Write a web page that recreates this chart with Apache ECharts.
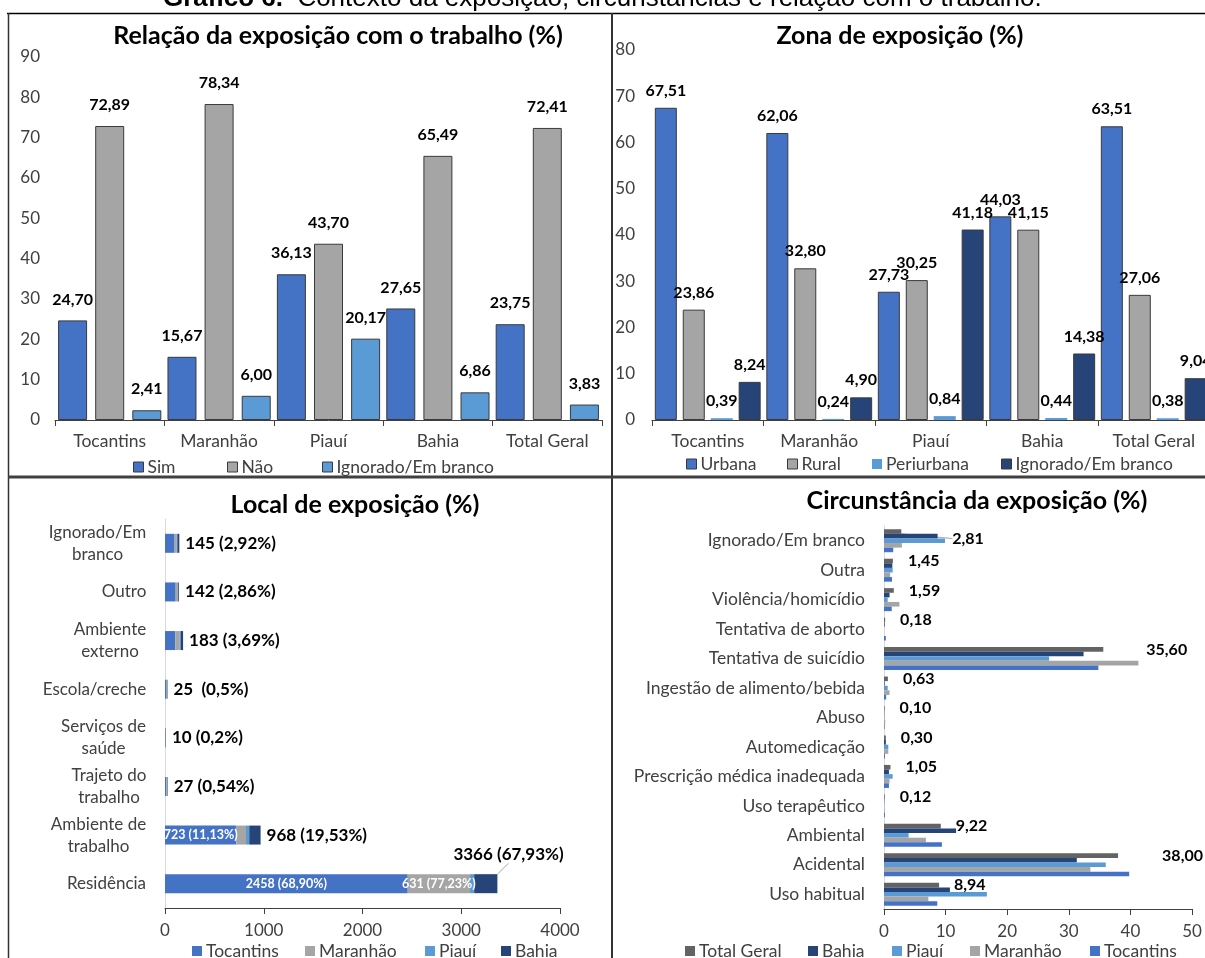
<!DOCTYPE html>
<html>
<head>
<meta charset="utf-8">
<script src="https://cdn.jsdelivr.net/npm/echarts@6/dist/echarts.min.js"></script>
<style>
  html, body { margin: 0; padding: 0; background: #fff; }
  #c { width: 1205px; height: 958px; }
</style>
</head>
<body>
<div id="c"></div>
<script>
// ---- Relação da exposição com o trabalho (%) ----
const workStates = ['Tocantins', 'Maranhão', 'Piauí', 'Bahia', 'Total Geral'];
const workSim = [24.70, 15.67, 36.13, 27.65, 23.75];
const workNao = [72.89, 78.34, 43.70, 65.49, 72.41];
const workIgn = [2.41, 6.00, 20.17, 6.86, 3.83];

// ---- Zona de exposição (%) ----
const zoneStates = ['Tocantins', 'Maranhão', 'Piauí', 'Bahia', 'Total Geral'];
const zoneUrbana = [67.51, 62.06, 27.73, 44.03, 63.51];
const zoneRural = [23.86, 32.80, 30.25, 41.15, 27.06];
const zonePeri = [0.39, 0.24, 0.84, 0.44, 0.38];
const zoneIgn = [8.24, 4.90, 41.18, 14.38, 9.04];

// ---- Local de exposição (notificações, bottom to top) ----
const placeCats = ['Residência', 'Ambiente de\ntrabalho', 'Trajeto do\ntrabalho', 'Serviços de\nsaúde',
  'Escola/creche', 'Ambiente\nexterno', 'Outro', 'Ignorado/Em\nbranco'];
const placeToc = [2458, 723, 15, 5, 12, 104, 108, 97];
const placeMar = [631, 97, 5, 2, 4, 44, 24, 21];
const placePia = [42, 33, 2, 1, 2, 10, 2, 7];
const placeBah = [235, 115, 5, 2, 7, 25, 8, 20];
const placeTotalPct = ['67,93%', '19,53%', '0,54%', '0,2%', '0,5%', '3,69%', '2,86%', '2,92%'];
const placeTotalSep = [' ', ' ', ' ', ' ', '  ', ' ', ' ', ' '];
const placeTocPct = ['68,90%', '11,13%', null, null, null, null, null, null];
const placeMarPct = ['77,23%', null, null, null, null, null, null, null];

// ---- Circunstância da exposição (%) (bottom to top) ----
const circCats = ['Uso habitual', 'Acidental', 'Ambiental', 'Uso terapêutico', 'Prescrição médica inadequada',
  'Automedicação', 'Abuso', 'Ingestão de alimento/bebida', 'Tentativa de suicídio', 'Tentativa de aborto',
  'Violência/homicídio', 'Outra', 'Ignorado/Em branco'];
const circTotal = [8.94, 38.00, 9.22, 0.12, 1.05, 0.30, 0.10, 0.63, 35.60, 0.18, 1.59, 1.45, 2.81];
const circBahia = [10.7, 31.3, 11.7, 0.05, 0.8, 0.3, 0.05, 0.1, 32.4, 0.1, 0.9, 1.35, 8.7];
const circPiaui = [16.7, 36.0, 4.0, 0.05, 1.4, 0.7, 0.08, 0.6, 26.8, 0.0, 0.6, 1.4, 9.9];
const circMaranhao = [7.2, 33.5, 6.8, 0.1, 0.9, 0.7, 0.2, 0.9, 41.3, 0.0, 2.5, 1.0, 2.9];
const circTocantins = [8.65, 39.8, 9.4, 0.15, 0.8, 0.15, 0.1, 0.35, 34.8, 0.3, 1.25, 1.3, 1.5];

// ---- styling ----
const FONT = 'Lato';
const AX = '#404040';
const AXIS_FS = 17.5;
const C_BLUE = '#4472C4', C_GRAY = '#A5A5A5', C_LBLUE = '#5B9BD5', C_NAVY = '#264478', C_DGRAY = '#636363';
const fmt2 = v => v.toFixed(2).replace('.', ',');

// multi-line category labels: lines centred on each other, block right-aligned on the axis
const mctx = document.createElement('canvas').getContext('2d');
function textWidth(s, size) { mctx.font = size + 'px ' + FONT; return mctx.measureText(s).width; }
const placeRich = {};
placeCats.forEach((c, i) => {
  const w = Math.max(...c.split('\n').map(l => textWidth(l, 17)));
  placeRich['p' + i] = { width: Math.ceil(w) + 1, align: 'center', fontFamily: FONT, fontSize: 17, color: AX, lineHeight: 22 };
});

function columnSeries(name, data, color, idx, bw, gap, dist) {
  return {
    type: 'bar', name, data, xAxisIndex: idx, yAxisIndex: idx,
    barWidth: bw, barGap: gap,
    itemStyle: { color, borderColor: '#3a3a3a', borderWidth: 1 },
    label: {
      show: true, position: 'top', distance: dist, formatter: p => fmt2(p.value),
      fontFamily: FONT, fontWeight: 'bold', fontSize: 16, color: '#000'
    },
    emphasis: { disabled: true }
  };
}

function stackSeries(name, data, color, extra) {
  return Object.assign({
    type: 'bar', name, data, stack: 'local', xAxisIndex: 2, yAxisIndex: 2,
    barWidth: 19, itemStyle: { color }, emphasis: { disabled: true }
  }, extra || {});
}

function circSeries(name, data, color, extra) {
  return Object.assign({
    type: 'bar', name, data, xAxisIndex: 3, yAxisIndex: 3,
    barCategoryGap: '22%', barGap: '0%', itemStyle: { color }, emphasis: { disabled: true }
  }, extra || {});
}

function legendItem(name, color, x, y, bordered) {
  return {
    left: x, top: y, padding: 0, itemGap: 0, itemWidth: 10, itemHeight: 10,
    icon: 'rect', selectedMode: false,
    data: [{ name, itemStyle: bordered ? { color, borderColor: '#3a3a3a', borderWidth: 1 } : { color, borderWidth: 0 } }],
    textStyle: { fontFamily: FONT, fontSize: AXIS_FS, color: AX, padding: [0, 0, 0, -1] }
  };
}

const catAxisBottom = (idx, data) => ({
  type: 'category', gridIndex: idx, data,
  axisLine: { show: true, lineStyle: { color: AX, width: 1 } },
  axisTick: { show: true, length: 6, lineStyle: { color: AX } },
  axisLabel: { fontFamily: FONT, fontSize: AXIS_FS, color: AX, margin: 12, interval: 0 },
  splitLine: { show: false }
});

const valAxisLeft = (idx, max, margin) => ({
  type: 'value', gridIndex: idx, min: 0, max, interval: 10,
  axisLine: { show: false }, axisTick: { show: false }, splitLine: { show: false },
  axisLabel: { fontFamily: FONT, fontSize: 17, color: AX, margin }
});

const valAxisBottom = (idx, max, interval) => ({
  type: 'value', gridIndex: idx, min: 0, max, interval,
  axisLine: { show: true, lineStyle: { color: AX, width: 1 } },
  axisTick: { show: true, length: 6, lineStyle: { color: AX } },
  splitLine: { show: false },
  axisLabel: { fontFamily: FONT, fontSize: 17, color: AX, margin: 14, formatter: v => String(v) }
});

const catAxisLeft = (idx, data, labelExtra) => ({
  type: 'category', gridIndex: idx, data,
  axisLine: { show: true, lineStyle: { color: '#d9d9d9', width: 1 } },
  axisTick: { show: false }, splitLine: { show: false },
  axisLabel: Object.assign({ fontFamily: FONT, fontSize: AXIS_FS, color: AX, interval: 0 }, labelExtra)
});

const titleText = (text, x, y) => ({
  type: 'text', x, y, silent: true,
  style: { text, fontFamily: FONT, fontWeight: 'bold', fontSize: 25, fill: '#000', align: 'center', verticalAlign: 'middle' }
});
const line = (x1, y1, x2, y2, color, w) => ({
  type: 'line', silent: true, shape: { x1, y1, x2, y2 }, style: { stroke: color, lineWidth: w }
});

const chart = echarts.init(document.getElementById('c'));

chart.setOption({
  animation: false,
  backgroundColor: '#fff',
  grid: [
    { left: 55, top: 57, width: 547, height: 363, outerBoundsMode: 'none' },
    { left: 652, top: 50, width: 557.5, height: 370, outerBoundsMode: 'none' },
    { left: 165, top: 519, width: 395, height: 389, outerBoundsMode: 'none' },
    { left: 884, top: 526, width: 308, height: 383, outerBoundsMode: 'none' }
  ],
  xAxis: [
    catAxisBottom(0, workStates),
    catAxisBottom(1, zoneStates),
    valAxisBottom(2, 4000, 1000),
    valAxisBottom(3, 50, 10)
  ],
  yAxis: [
    valAxisLeft(0, 90, 15),
    valAxisLeft(1, 80, 17),
    catAxisLeft(2, placeCats, { margin: 18, formatter: (v, i) => '{p' + i + '|' + v + '}', rich: placeRich }),
    catAxisLeft(3, circCats, { margin: 19 })
  ],
  legend: [
    legendItem('Sim', C_BLUE, 133, 458, true),
    legendItem('Não', C_GRAY, 227, 458, true),
    legendItem('Ignorado/Em branco', C_LBLUE, 322, 458, true),
    legendItem('Urbana', C_BLUE, 686, 455, true),
    legendItem('Rural', C_GRAY, 787, 455, true),
    legendItem('Periurbana', C_LBLUE, 872, 455, false),
    legendItem('Ignorado/Em branco', C_NAVY, 1001, 455, true),
    legendItem('Tocantins', C_BLUE, 192, 942, false),
    legendItem('Maranhão', C_GRAY, 305, 942, false),
    legendItem('Piauí', C_LBLUE, 425, 942, false),
    legendItem('Bahia', C_NAVY, 501, 942, false),
    legendItem('Total Geral', C_DGRAY, 685, 942, false),
    legendItem('Bahia', C_NAVY, 808, 942, false),
    legendItem('Piauí', C_LBLUE, 892, 942, false),
    legendItem('Maranhão', C_GRAY, 970, 942, false),
    legendItem('Tocantins', C_BLUE, 1090, 942, false)
  ],
  graphic: [
    {
      type: 'text', x: 163, y: -1, silent: true,
      style: {
        text: '{b|Gráfico 6.}  Contexto da exposição, circunstâncias e relação com o trabalho.',
        fontFamily: 'Liberation Sans', fontSize: 26, fill: '#000', verticalAlign: 'middle',
        rich: { b: { fontFamily: 'Liberation Sans', fontSize: 26, fontWeight: 'bold', fill: '#000' } }
      }
    },
    line(7, 13.5, 1205, 13.5, '#000', 1.5),
    line(8.5, 13, 8.5, 958, '#333', 1.5),
    line(612, 13, 612, 958, '#333', 2),
    line(8, 477, 1205, 477, '#404040', 3),
    titleText('Relação da exposição com o trabalho (%)', 338, 36),
    titleText('Zona de exposição (%)', 900, 36),
    titleText('Local de exposição (%)', 355, 505),
    titleText('Circunstância da exposição (%)', 977, 501)
  ],
  series: [
    // Relação com o trabalho
    columnSeries('Sim', workSim, C_BLUE, 0, 29, '28%', 13),
    columnSeries('Não', workNao, C_GRAY, 0, 29, '28%', 13),
    columnSeries('Ignorado/Em branco', workIgn, C_LBLUE, 0, 29, '28%', 13),
    // Zona de exposição
    columnSeries('Urbana', zoneUrbana, C_BLUE, 1, 22, '27%', 9),
    columnSeries('Rural', zoneRural, C_GRAY, 1, 22, '27%', 9),
    Object.assign(columnSeries('Periurbana', zonePeri, C_LBLUE, 1, 22, '27%', 9), { itemStyle: { color: C_LBLUE } }),
    columnSeries('Ignorado/Em branco', zoneIgn, C_NAVY, 1, 22, '27%', 9),
    // Local de exposição (stacked)
    stackSeries('Tocantins', placeToc.map((v, i) => placeTocPct[i] ? {
      value: v, label: { show: true, formatter: v + ' (' + placeTocPct[i] + ')' }
    } : v), C_BLUE, {
      label: { show: false, position: 'inside', fontFamily: FONT, fontWeight: 'bold', fontSize: 12.5, color: '#fff' }
    }),
    stackSeries('Maranhão', placeMar.map((v, i) => placeMarPct[i] ? {
      value: v, label: { show: true, formatter: v + ' (' + placeMarPct[i] + ')' }
    } : v), C_GRAY, {
      label: { show: false, position: 'inside', fontFamily: FONT, fontWeight: 'bold', fontSize: 12.5, color: '#fff' }
    }),
    stackSeries('Piauí', placePia, C_LBLUE),
    stackSeries('Bahia', placeBah.map((v, i) => i === 0 ? {
      value: v, labelLine: { show: true, lineStyle: { color: '#a6a6a6', width: 1 } }
    } : v), C_NAVY, {
      label: {
        show: true, position: 'right', distance: 6,
        formatter: p => {
          const i = p.dataIndex;
          const total = placeToc[i] + placeMar[i] + placePia[i] + placeBah[i];
          return total + placeTotalSep[i] + '(' + placeTotalPct[i] + ')';
        },
        fontFamily: FONT, fontWeight: 'bold', fontSize: 17, color: '#000'
      },
      labelLayout: p => p.dataIndex === 0 ? { dx: -50, dy: -29 } : {}
    }),
    // Circunstância da exposição
    circSeries('Total Geral', circTotal.map((v, i) => i === 12 ? {
      value: v, labelLine: { show: true, lineStyle: { color: '#a6a6a6', width: 1 } }
    } : v), C_DGRAY, {
      label: {
        show: true, position: 'right', distance: 15, formatter: p => fmt2(p.value),
        fontFamily: FONT, fontWeight: 'bold', fontSize: 16, color: '#000'
      },
      labelLayout: p => {
        if (p.dataIndex === 12) return { dx: 36, dy: 7 };
        if (p.dataIndex === 8) return { dx: 28 };
        if (p.dataIndex === 1) return { dx: 29 };
        return {};
      }
    }),
    circSeries('Bahia', circBahia, C_NAVY),
    circSeries('Piauí', circPiaui, C_LBLUE),
    circSeries('Maranhão', circMaranhao, C_GRAY),
    circSeries('Tocantins', circTocantins, C_BLUE)
  ]
});
</script>
</body>
</html>
